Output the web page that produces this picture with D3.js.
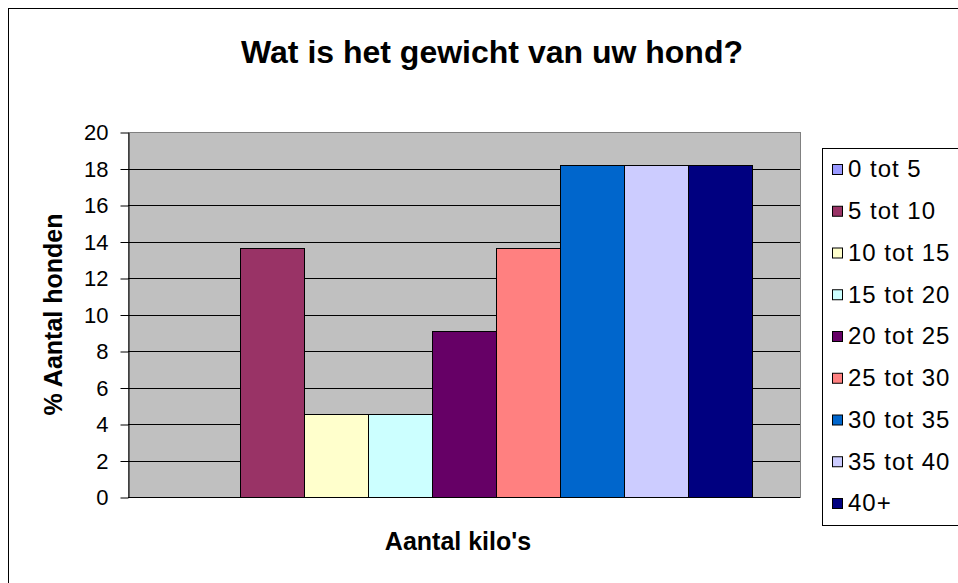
<!DOCTYPE html>
<html>
<head>
<meta charset="utf-8">
<script src="https://cdn.jsdelivr.net/npm/d3@7"></script>
<style>
  body { margin: 0; background: #fff; }
  svg { font-family: Arial, "Liberation Sans", sans-serif; }
</style>
</head>
<body>
<div id="chart"></div>
<script>
// data (percent of dogs, 22 dogs in total)
var categories = [""];
var seriesNames = ["0 tot 5", "5 tot 10", "10 tot 15", "15 tot 20", "20 tot 25", "25 tot 30", "30 tot 35", "35 tot 40", "40+"];
var seriesValues = [0, 13.64, 4.55, 4.55, 9.09, 13.64, 18.18, 18.18, 18.18];
var seriesColors = ["#9999ff", "#993366", "#ffffcc", "#ccffff", "#660066", "#ff8080", "#0066cc", "#ccccff", "#000080"];
var yTicks = [0, 2, 4, 6, 8, 10, 12, 14, 16, 18, 20];

var width = 958, height = 583;
var plot = {left: 128, top: 132, right: 800, bottom: 497};

var svg = d3.select("#chart").append("svg")
    .attr("width", width)
    .attr("height", height);

// outer chart frame
svg.append("rect")
    .attr("x", 8.5).attr("y", 8.5)
    .attr("width", 960).attr("height", 600)
    .attr("fill", "#fff")
    .attr("stroke", "#000");

var x0 = d3.scaleBand()
    .domain(categories)
    .range([plot.left, plot.right])
    .paddingInner(0)
    .paddingOuter((672 / 576 - 1) / 2);

var x1 = d3.scaleBand()
    .domain(seriesNames)
    .range([0, x0.bandwidth()])
    .padding(0);

var y = d3.scaleLinear()
    .domain([0, 20])
    .range([plot.bottom, plot.top]);

var color = d3.scaleOrdinal()
    .domain(seriesNames)
    .range(seriesColors);

// plot area
svg.append("rect")
    .attr("x", plot.left + 0.5).attr("y", plot.top + 0.5)
    .attr("width", plot.right - plot.left).attr("height", plot.bottom - plot.top)
    .attr("fill", "#c0c0c0")
    .attr("stroke", "#808080");

// gridlines
svg.append("g")
    .selectAll("line")
    .data(yTicks.filter(function(d) { return d > 0 && d < 20; }))
  .enter().append("line")
    .attr("x1", plot.left).attr("x2", plot.right)
    .attr("y1", function(d) { return Math.round(y(d)) + 0.5; })
    .attr("y2", function(d) { return Math.round(y(d)) + 0.5; })
    .attr("stroke", "#000");

// bars
var data = seriesNames.map(function(n, i) { return {name: n, value: seriesValues[i]}; });

svg.append("g")
    .selectAll("g")
    .data(categories)
  .enter().append("g")
    .attr("transform", function(d) { return "translate(" + x0(d) + ",0)"; })
  .selectAll("rect")
    .data(data.filter(function(d) { return d.value > 0; }))
  .enter().append("rect")
    .attr("x", function(d) { return Math.round(x1(d.name)) + 0.5; })
    .attr("y", function(d) { return Math.round(y(d.value)) + 0.5; })
    .attr("width", x1.bandwidth())
    .attr("height", function(d) { return Math.round(y(0)) - Math.round(y(d.value)); })
    .attr("fill", function(d) { return color(d.name); })
    .attr("stroke", "#000");

// y axis
var yAxis = svg.append("g")
    .attr("transform", "translate(" + (plot.left + 0.5) + ",0.5)")
    .call(d3.axisLeft(y).tickValues(yTicks).tickSize(8).tickPadding(12).tickSizeOuter(0));
yAxis.select(".domain").attr("stroke", "#000");
yAxis.selectAll(".tick line").attr("stroke", "#000");
yAxis.selectAll("text")
    .attr("font-size", "22px")
    .attr("font-family", "Arial, 'Liberation Sans', sans-serif")
    .attr("fill", "#000");

// x axis line
svg.append("line")
    .attr("x1", plot.left).attr("x2", plot.right)
    .attr("y1", Math.round(y(0)) + 0.5).attr("y2", Math.round(y(0)) + 0.5)
    .attr("stroke", "#000");

// titles
svg.append("text")
    .attr("x", 492).attr("y", 63)
    .attr("text-anchor", "middle")
    .attr("font-size", "32px")
    .attr("font-weight", "bold")
    .text("Wat is het gewicht van uw hond?");

svg.append("text")
    .attr("x", 458).attr("y", 550)
    .attr("text-anchor", "middle")
    .attr("font-size", "25px")
    .attr("font-weight", "bold")
    .text("Aantal kilo's");

svg.append("text")
    .attr("transform", "translate(62," + ((plot.top + plot.bottom) / 2) + ") rotate(-90)")
    .attr("text-anchor", "middle")
    .attr("font-size", "25px")
    .attr("font-weight", "bold")
    .text("% Aantal honden");

// legend
svg.append("rect")
    .attr("x", 822.5).attr("y", 148.5)
    .attr("width", 200).attr("height", 377)
    .attr("fill", "#fff")
    .attr("stroke", "#000");

var legend = svg.append("g")
    .selectAll("g")
    .data(seriesNames)
  .enter().append("g")
    .attr("transform", function(d, i) { return "translate(832," + (169 + i * 41.75) + ")"; });

legend.append("rect")
    .attr("x", 0.5).attr("y", -4.5)
    .attr("width", 10).attr("height", 10)
    .attr("fill", color)
    .attr("stroke", "#000");

legend.append("text")
    .attr("x", 16)
    .attr("y", 0)
    .attr("dy", ".35em")
    .attr("font-size", "24px")
    .attr("letter-spacing", "1px")
    .text(function(d) { return d; });
</script>
</body>
</html>
